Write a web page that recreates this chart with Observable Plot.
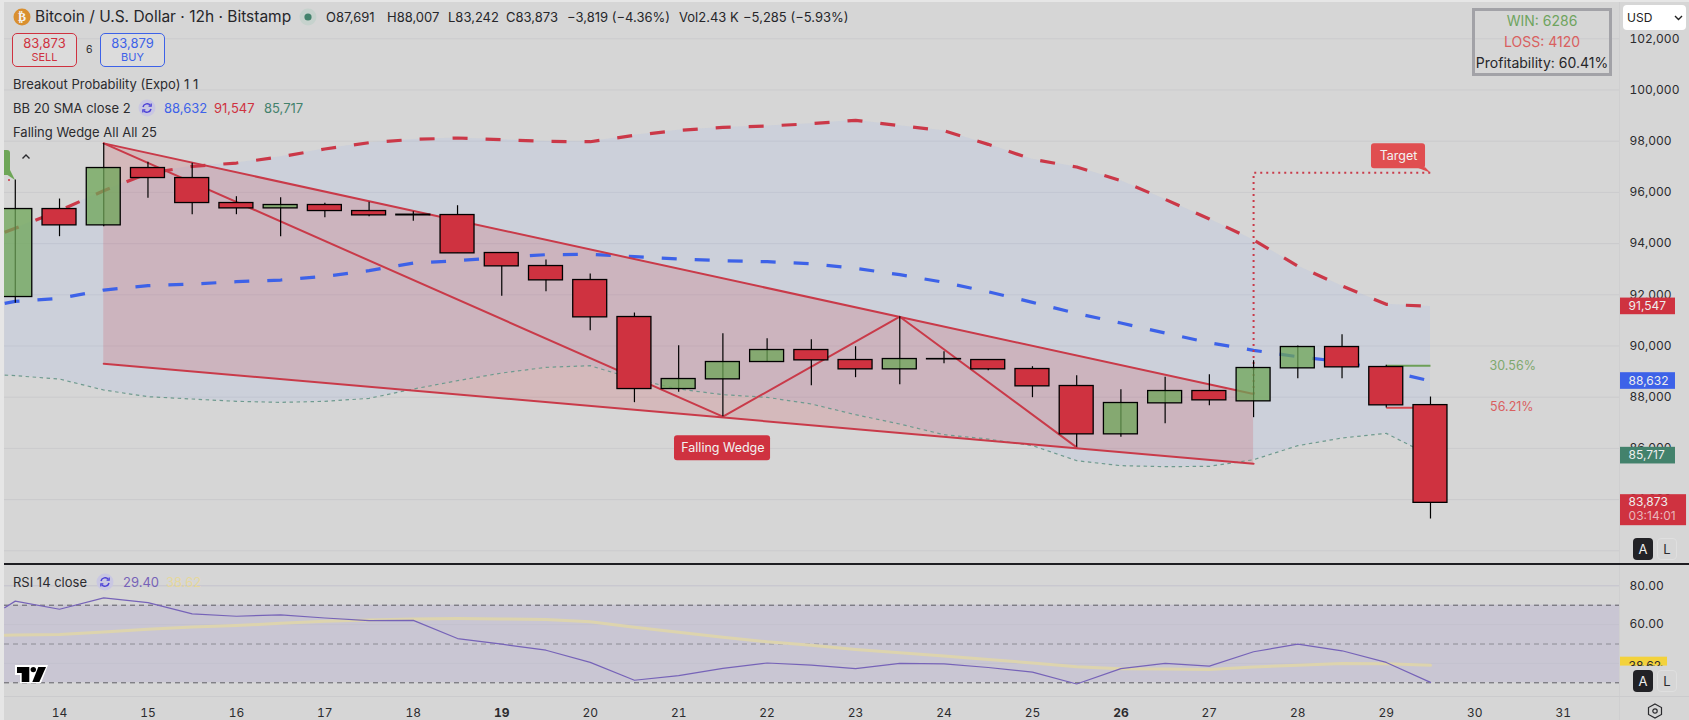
<!DOCTYPE html>
<html><head><meta charset="utf-8">
<script src="https://cdn.jsdelivr.net/npm/d3@7"></script>
<script src="https://cdn.jsdelivr.net/npm/@observablehq/plot@0.6"></script>
<style>
html,body{margin:0;padding:0;background:#e6e6e6;width:1689px;height:720px;overflow:hidden}
#stage{position:absolute;left:4px;top:2px;right:0;bottom:0;background:#d6d6d6}
#main,#rsi{position:absolute;left:0}
#main{top:0}#rsi{top:564px}
#main svg,#rsi svg{display:block;overflow:visible;background:transparent}
.t{position:absolute;font-family:Inter,sans-serif;white-space:nowrap;line-height:16px;color:#2b2b2e}
.box{position:absolute;box-sizing:border-box}
</style></head><body>
<div id="stage"></div>
<div id="main"></div>
<div id="rsi"></div>
<div id="over"></div>
<script>
// ---- candles (12h bars, x = day of the month)
const days=[13.5,14,14.5,15,15.5,16,16.5,17,17.5,18,18.5,19,19.5,20,20.5,21,21.5,22,22.5,23,23.5,24,24.5,25,25.5,26,26.5,27,27.5,28,28.5,29,29.5];
const opens=[91913,95350,94712,96952,96561,95585,95376,95507,95272,95129,95116,93632,93124,92577,91132,88319,88697,89374,89843,89452,89088,89491,89452,89101,88437,86549,87760,88241,87838,89127,89960,89179,87691];
const highs=[96483,95741,97915,97173,97134,95832,95793,95572,95611,95246,95480,93632,93358,92811,91288,90012,90481,90286,90246,89973,91145,89778,89452,89192,88840,88293,88775,88879,89426,90000,90442,89244,88007];
const lows=[91666,94270,94660,95767,95129,95129,94270,95012,95051,94869,93619,91939,92121,90598,87786,88189,87239,89374,88450,88762,88489,89309,89036,87981,86041,86432,86965,87668,87200,88723,88723,87577,83242];
const closes=[95350,94712,96952,96561,95585,95376,95507,95272,95103,95103,93619,93111,92564,91119,88319,88710,89374,89843,89439,89088,89491,89478,89088,88424,86549,87773,88241,87877,89140,89960,89166,87682,83873];
// ---- indicator series
const bandDays=[13.38,...days];
const bbUpper=[94439,94595,95285,96066,96743,97017,97147,97394,97694,97941,98071,98124,98058,97993,97980,98228,98423,98540,98592,98684,98814,98605,98410,97877,97291,96991,96457,95728,94960,94140,93125,92343,91627,91547];
const bbMiddle=[91666,91744,91861,92186,92356,92421,92512,92577,92720,92942,93241,93332,93462,93567,93580,93488,93398,93332,93293,93215,93033,92786,92486,92121,91705,91270,90897,90507,90129,89830,89582,89387,89036,88632];
const bbLower=[88866,88840,88710,88280,88020,87929,87838,87799,87838,87955,88319,88645,88945,89166,89231,88710,88319,88098,87994,87734,87317,86952,86536,86366,86106,85520,85325,85286,85299,85559,86106,86406,86588,85717];
const rsiValues=[68.7,72.1,67.9,73.8,71.3,65.5,64.3,65,63.4,62,62.2,52.8,49.9,46.8,40.5,31.3,33.7,37.4,40.2,39.1,37.3,40,39.8,37.9,35.5,29.4,37.3,40,38.6,46,49.9,46.5,40.5,30.2];
const rsiMA=[54.5,54.6,54.9,56.2,57.6,58.8,59.5,60.7,61.7,62.4,62.9,63.1,62.9,62.6,61.5,58.6,56,53.5,51.1,49.4,47.2,45.5,43.8,42,40.2,38.3,37.3,37.1,36.9,38.1,39.1,40,39.8,39];
// ---- falling wedge pattern
const wedgeX=[14.5,27.5];
const wedgeTop=[97915,88124];
const wedgeBottom=[89309,85403];
const zigzagX=[14.5,21.5,23.5,25.5];
const zigzagY=[97915,87239,91145,86041];
const targetX=[27.5,27.5,29.5];
const targetY=[88124,96770,96770];
const breakoutUp=89231, breakoutDown=87590;
const priceGrid=[82000,84000,86000,88000,90000,92000,94000,96000,98000,100000,102000];
const priceTicks=[84000,86000,88000,90000,92000,94000,96000,98000,100000,102000];
const rsiTicks=[40,60,80];
const dayTicks=[14,15,16,17,18,20,21,22,23,24,25,27,28,29,30,31];
const boldDayTicks=[19,26];
// price tags in the right gutter
const tags=[{v:91547,c:"#cf3240"},{v:88632,c:"#3d62e8"},{v:85717,c:"#43826c"}];

const FONT="Inter, sans-serif";
const xScale={type:"linear",domain:[13.378,31.637],range:[4,1619]};
const idx=d3.range(days.length);
const bidx=d3.range(bandDays.length);
const RED="#cf3240",GREEN="#6ea657",GRID="#cbcbcd",W=0.192;
const up=i=>closes[i]>=opens[i];
const xg0=31.648,xg1=32.27,xg2=32.395;
const butt={strokeLinecap:"butt"};

const main=Plot.plot({
  width:1689,height:564,marginLeft:4,marginRight:70,marginTop:0,marginBottom:0,
  style:{background:"transparent",fontFamily:FONT,fontSize:"12px",overflow:"visible"},
  x:{...xScale,axis:null},
  y:{type:"linear",domain:[82000,102000],range:[550.3,38.3],axis:null},
  marks:[
    Plot.ruleY(priceGrid,{stroke:GRID,strokeWidth:1}),
    Plot.axisY({anchor:"right",ticks:priceTicks,tickSize:0,tickPadding:10,textAnchor:"start",tickFormat:d3.format(","),fill:"#2b2b2e",fontSize:12,label:null}),
    Plot.areaY(bidx,{x:i=>bandDays[i],y1:i=>bbLower[i],y2:i=>bbUpper[i],fill:"#93aef1",fillOpacity:0.15}),
    Plot.areaY([0,1],{x:i=>wedgeX[i],y1:i=>wedgeBottom[i],y2:i=>wedgeTop[i],fill:"#cc4450",fillOpacity:0.2}),
    Plot.line(bidx,{x:i=>bandDays[i],y:i=>bbLower[i],stroke:"#6e9a90",strokeWidth:1.2,strokeDasharray:"3.5,3.5",...butt}),
    Plot.line(bidx,{x:i=>bandDays[i],y:i=>bbMiddle[i],stroke:"#3d62e8",strokeWidth:3.2,strokeDasharray:"15,18",...butt}),
    Plot.line(bidx,{x:i=>bandDays[i],y:i=>bbUpper[i],stroke:"#cb3848",strokeWidth:3.2,strokeDasharray:"15,18",...butt}),
    Plot.line([0,1],{x:i=>wedgeX[i],y:i=>wedgeTop[i],stroke:"#c93a49",strokeWidth:2}),
    Plot.line([0,1],{x:i=>wedgeX[i],y:i=>wedgeBottom[i],stroke:"#c93a49",strokeWidth:2}),
    Plot.line(zigzagX,{x:d=>d,y:(d,i)=>zigzagY[i],stroke:"#c93a49",strokeWidth:2}),
    Plot.line(targetX,{x:d=>d,y:(d,i)=>targetY[i],stroke:"#c93a49",strokeWidth:2,strokeDasharray:"2,4",...butt}),
    Plot.line([{x:29,y:breakoutUp},{x:29.5,y:breakoutUp}],{x:"x",y:"y",stroke:"#6c9f58",strokeWidth:2,...butt}),
    Plot.line([{x:29,y:breakoutDown},{x:29.5,y:breakoutDown}],{x:"x",y:"y",stroke:"#d9484f",strokeWidth:2,...butt}),
    Plot.ruleX(idx,{x:i=>days[i],y1:i=>lows[i],y2:i=>highs[i],stroke:"#000",strokeWidth:1.2}),
    Plot.rect(idx,{x1:i=>days[i]-W,x2:i=>days[i]+W,y1:i=>opens[i],y2:i=>closes[i],
      fill:i=>up(i)?GREEN:RED,fillOpacity:i=>up(i)?0.75:1,stroke:"#000",strokeWidth:1.3}),
    // pattern labels
    Plot.rect([0],{x1:()=>20.953,x2:()=>22.039,y1:()=>85520,y2:()=>86497,fill:RED,r:3}),
    Plot.text(["Falling Wedge"],{x:()=>21.5,y:()=>86008,fill:"#f2f2f2",fontSize:12.5,text:d=>d}),
    Plot.rect([0],{x1:()=>28.833,x2:()=>29.444,y1:()=>96926,y2:()=>97902,fill:"#e04e50",r:3}),
    Plot.line([{x:29.34,y:96980},{x:29.44,y:96980},{x:29.5,y:96770}],{x:"x",y:"y",fill:"#e04e50",stroke:null}),
    Plot.text(["Target"],{x:()=>29.139,y:()=>97440,fill:"#f2f2f2",fontSize:12.5,text:d=>d}),
    Plot.text(["30.56%"],{x:()=>30.43,y:()=>89204,fill:"#7fa86e",fontSize:12.5,text:d=>d}),
    Plot.text(["56.21%"],{x:()=>30.42,y:()=>87603,fill:"#d9605f",fontSize:12.5,text:d=>d}),
    // price tags
    Plot.rect(tags,{x1:()=>xg0,x2:()=>xg1,y1:d=>d.v-325,y2:d=>d.v+325,fill:"c"}),
    Plot.text(tags,{x:()=>31.74,y:"v",text:d=>d3.format(",")(d.v),fill:"#eeeeee",textAnchor:"start",fontSize:12}),
    Plot.rect([83873],{x1:()=>xg0,x2:()=>xg2,y1:()=>82981,y2:()=>84192,fill:RED}),
    Plot.text([83873],{x:()=>31.74,y:d=>d,dy:-1,text:d=>d3.format(",")(d),fill:"#eeeeee",textAnchor:"start",fontSize:12}),
    Plot.text(["03:14:01"],{x:()=>31.74,y:()=>83873,dy:13,text:d=>d,fill:"#e9b6bb",textAnchor:"start",fontSize:12})
  ]
});
document.getElementById("main").append(main);

const rsi=Plot.plot({
  width:1689,height:156,marginLeft:4,marginRight:70,marginTop:0,marginBottom:24,
  style:{background:"transparent",fontFamily:FONT,fontSize:"12px",overflow:"visible"},
  x:{...xScale,axis:null},
  y:{type:"linear",domain:[30,80],range:[118.3,21.3],axis:null},
  marks:[
    Plot.rect([0],{x1:()=>13.378,x2:()=>31.637,y1:()=>30,y2:()=>70,fill:"#c9c6d3"}),
    Plot.ruleY(rsiTicks,{stroke:"#c4c2ce",strokeWidth:1}),
    Plot.ruleY([70,30],{stroke:"#5e5e64",strokeWidth:1,strokeDasharray:"5,4"}),
    Plot.ruleY([50],{stroke:"#8c8c94",strokeWidth:1,strokeDasharray:"5,4"}),
    Plot.line(bidx,{x:i=>bandDays[i],y:i=>rsiMA[i],stroke:"#ddd4ae",strokeWidth:3}),
    Plot.line(bidx,{x:i=>bandDays[i],y:i=>rsiValues[i],stroke:"#7663b8",strokeWidth:1.2}),
    Plot.axisY({anchor:"right",ticks:rsiTicks,tickSize:0,tickPadding:10,textAnchor:"start",tickFormat:d3.format(".2f"),fill:"#2b2b2e",fontSize:12,label:null}),
    Plot.axisX({anchor:"bottom",ticks:dayTicks,tickSize:0,tickPadding:12,tickFormat:d=>String(d),fill:"#2b2b2e",fontSize:12,label:null}),
    Plot.axisX({anchor:"bottom",ticks:boldDayTicks,tickSize:0,tickPadding:12,tickFormat:d=>String(d),fill:"#2b2b2e",fontSize:12,fontWeight:"bold",label:null}),
    Plot.rect([0],{x1:()=>xg0,x2:()=>32.18,y1:()=>38.62,y2:()=>43.2,fill:"#f3d23c"}),
    Plot.text([38.62],{x:()=>31.74,y:d=>d,text:d=>d.toFixed(2),fill:"#2b2b2e",textAnchor:"start",fontSize:12})
  ]
});
document.getElementById("rsi").append(rsi);

// ---- surrounding interface
const over=document.getElementById("over");
function add(html){over.insertAdjacentHTML("beforeend",html)}
function txt(s,x,yc,style=""){add(`<div class="t" style="left:${x}px;top:${yc-8}px;${style}">${s}</div>`)}
function box(x,y,w,h,style){add(`<div class="box" style="left:${x}px;top:${y}px;width:${w}px;height:${h}px;${style}"></div>`)}
// page edge, gutter separators and pane divider
box(0,0,4,720,"background:#e6e6e6");
box(0,0,1689,2,"background:#e6e6e6");
box(1619,2,1,718,"background:#cfcfd0");
box(4,696,1685,1,"background:#cbcbcd");
box(4,563,1685,1.5,"background:#1e1e22");
box(1620,666,69,30,"background:#d6d6d6");
// header
add(`<svg style="position:absolute;left:13px;top:8px" width="18" height="18"><circle cx="9" cy="9" r="8.5" fill="#d98f2f"/><text x="9" y="13" text-anchor="middle" font-size="12" font-weight="700" fill="#f3f3f3" font-family="DejaVu Sans">₿</text></svg>`);
txt("Bitcoin / U.S. Dollar · 12h · Bitstamp",35,17,"font-size:15.5px;color:#26262a");
add(`<svg style="position:absolute;left:299px;top:8px" width="18" height="18"><circle cx="9" cy="9" r="8.5" fill="#c6d2cd"/><circle cx="9" cy="9" r="3.6" fill="#43826c"/></svg>`);
[["O87,691",326],["H88,007",387],["L83,242",448],["C83,873",506],["−3,819 (−4.36%)",567],["Vol2.43 K",679],["−5,285 (−5.93%)",743]]
  .forEach(([s,x])=>txt(s,x,17,"font-size:13px;color:#26262a"));
// sell / buy
box(12,33,65,34,"border:1.5px solid #cf3240;border-radius:5px;background:#dcdcdc");
box(100,33,65,34,"border:1.5px solid #3d62e8;border-radius:5px;background:#dcdcdc");
add(`<div class="t" style="left:12px;width:65px;text-align:center;top:35px;font-size:13px;color:#cf3240">83,873</div>`);
add(`<div class="t" style="left:12px;width:65px;text-align:center;top:49px;font-size:11px;color:#cf3240">SELL</div>`);
add(`<div class="t" style="left:100px;width:65px;text-align:center;top:35px;font-size:13px;color:#3d62e8">83,879</div>`);
add(`<div class="t" style="left:100px;width:65px;text-align:center;top:49px;font-size:11px;color:#3d62e8">BUY</div>`);
txt("6",86,50,"font-size:10.5px");
// legends
txt("Breakout Probability (Expo) 1 1",13,84,"font-size:13px");
txt("BB 20 SMA close 2",13,108,"font-size:13px");
const ref=(x,y)=>`<svg style="position:absolute;left:${x-9}px;top:${y-9}px" width="18" height="18"><circle cx="9" cy="9" r="8.5" fill="#c9c7e2"/><path d="M5 8a4.2 4.2 0 0 1 7.4-1.6M13 10a4.2 4.2 0 0 1-7.4 1.6" fill="none" stroke="#4a3fd6" stroke-width="1.5"/><path d="M13.2 4.6v2.6h-2.6M4.8 13.4v-2.6h2.6" fill="none" stroke="#4a3fd6" stroke-width="1.2"/></svg>`;
add(ref(147,108));
txt("88,632",164,108,"font-size:13px;color:#3d62e8");
txt("91,547",214,108,"font-size:13px;color:#cf3240");
txt("85,717",264,108,"font-size:13px;color:#43826c");
txt("Falling Wedge All All 25",13,132,"font-size:13px");
txt("RSI 14 close",13,582,"font-size:13px");
add(ref(105,582));
txt("29.40",123,582,"font-size:13px;color:#7663b8");
txt("38.62",166,582,"font-size:13px;color:#e6d89c");
// left-edge widget
box(4,150,6,25,"background:#6ea657;border-radius:0 3px 0 0");
add(`<svg style="position:absolute;left:0;top:140px" width="40" height="50"><path d="M6 34 L10 30 L15 40 Z" fill="#6ea657"/><circle cx="9" cy="40" r="1" fill="#cf3240"/><path d="M22.5 18.5 L26 15 L29.5 18.5" fill="none" stroke="#2b2b2e" stroke-width="1.4"/></svg>`);
// stats box
box(1472,8,140,68,"border:3px solid #a2a2a7");
["WIN: 6286|#6fa45f|21","LOSS: 4120|#d9605f|42","Profitability: 60.41%|#26262a|63"].forEach(r=>{const [s,c,y]=r.split("|");
  add(`<div class="t" style="left:1472px;width:140px;text-align:center;top:${+y-8}px;font-size:14px;color:${c}">${s}</div>`)});
// currency selector
box(1623,5,63,25,"background:#fff;border-radius:4px");
txt("USD",1627,17.5,"font-size:12px;color:#222");
add(`<svg style="position:absolute;left:1674px;top:15px" width="9" height="6"><path d="M1 1 L4.5 4.5 L8 1" fill="none" stroke="#222" stroke-width="1.4"/></svg>`);
// A / L buttons
[538,670].forEach(y=>{
  box(1633,y,20,22,"background:#222226;border-radius:4px");
  add(`<div class="t" style="left:1633px;width:20px;text-align:center;top:${y+3}px;font-size:13px;color:#f0f0f0">A</div>`);
  box(1657,y,20,22,"border:1px solid #dfdfdf;border-radius:4px");
  add(`<div class="t" style="left:1657px;width:20px;text-align:center;top:${y+3}px;font-size:13px;color:#2b2b2e">L</div>`);
});
// settings glyph
add(`<svg style="position:absolute;left:1647px;top:703px" width="16" height="16"><path d="M8 1 L14.5 4.6 V11.4 L8 15 L1.5 11.4 V4.6 Z" fill="none" stroke="#2b2b2e" stroke-width="1.2"/><circle cx="8" cy="8" r="2.2" fill="none" stroke="#2b2b2e" stroke-width="1.2"/></svg>`);
// logo
add(`<svg style="position:absolute;left:0;top:655px" width="60" height="40"><path d="M15 10H48L41 28H20V20H15Z" fill="#fff"/><path d="M17 12H29.3V27H21.7V18H17Z" fill="#000"/><circle cx="33.3" cy="14.6" r="2.7" fill="#000"/><path d="M38.3 12H46L39.3 27H32.3Z" fill="#000"/></svg>`);
</script>
</body></html>
